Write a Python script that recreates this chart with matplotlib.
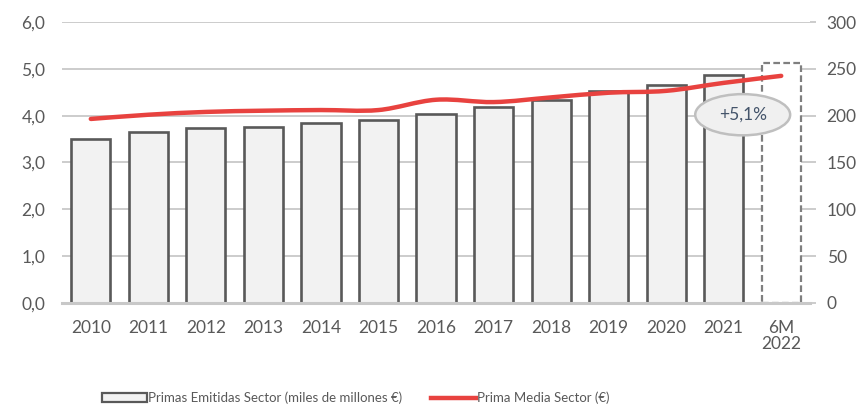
import matplotlib

matplotlib.use("Agg")
import matplotlib.pyplot as plt
import numpy as np
from matplotlib.lines import Line2D
from matplotlib.patches import Ellipse, Patch, PathPatch
from matplotlib.path import Path

# data
categories = ["2010", "2011", "2012", "2013", "2014", "2015", "2016",
              "2017", "2018", "2019", "2020", "2021", "6M\n2022"]
primas_emitidas = [3.50, 3.65, 3.74, 3.76, 3.85, 3.91, 4.04,
                   4.19, 4.33, 4.52, 4.66, 4.87, 5.13]
prima_media = [196.5, 201.0, 204.0, 205.3, 206.0, 206.0, 217.0,
               214.5, 219.5, 224.5, 226.5, 235.0, 242.5]
left_ticks = [0, 1, 2, 3, 4, 5, 6]
right_ticks = [0, 50, 100, 150, 200, 250, 300]
growth_label = "+5,1%"

TXT = "#595959"
GRID = "#C8C8C8"
RED = "#E8423F"
FONT = "Lato"


def smooth_path(xs, ys):
    # Catmull-Rom style cubic bezier through the points (like Excel's smoothed line)
    pts = np.column_stack([xs, ys]).astype(float)
    verts = [pts[0]]
    codes = [Path.MOVETO]
    n = len(pts)
    for i in range(n - 1):
        p0 = pts[i - 1] if i > 0 else pts[i]
        p1 = pts[i]
        p2 = pts[i + 1]
        p3 = pts[i + 2] if i + 2 < n else pts[i + 1]
        c1 = p1 + (p2 - p0) / 6.0
        c2 = p2 - (p3 - p1) / 6.0
        verts += [c1, c2, p2]
        codes += [Path.CURVE4] * 3
    return Path(verts, codes)


def main():
    fig = plt.figure(figsize=(8.64, 4.09), dpi=100)
    ax = fig.add_axes([0.0718, 0.2592, 0.8657, 0.687])
    x = np.arange(len(categories))

    n_full = len(categories) - 1
    ax.bar(x[:n_full], primas_emitidas[:n_full], width=0.68,
           color="#F2F2F2", edgecolor=TXT, linewidth=1.9, zorder=2)
    ax.bar(x[n_full:], primas_emitidas[n_full:], width=0.68,
           color="white", edgecolor="#7F7F7F", linewidth=1.6,
           linestyle=(0, (3, 1.5)), zorder=2)

    ax.set_xlim(-0.5, len(categories) - 0.5)
    ax.set_ylim(0, 6)
    ax.set_yticks(left_ticks)
    ax.set_yticklabels([f"{v:.1f}".replace(".", ",") for v in left_ticks])
    ax.set_xticks(x)
    ax.set_xticklabels(categories, linespacing=1.0)
    ax.yaxis.grid(True, color=GRID, linewidth=1.3, zorder=0)
    ax.set_axisbelow(True)
    for side in ["top", "left", "right"]:
        ax.spines[side].set_visible(False)
    ax.spines["bottom"].set_color(GRID)
    ax.spines["bottom"].set_linewidth(2.2)
    ax.tick_params(axis="y", length=0, pad=12, labelsize=12.5, labelcolor=TXT)
    ax.tick_params(axis="x", length=0, pad=12, labelsize=12.5, labelcolor=TXT)

    ax2 = ax.twinx()
    ax2.set_ylim(0, 300)
    ax2.set_yticks(right_ticks)
    for side in ["top", "left", "right", "bottom"]:
        ax2.spines[side].set_visible(False)
    ax2.tick_params(axis="y", length=4, width=1.3, color=GRID, pad=8,
                    labelsize=12.5, labelcolor=TXT)
    ax2.add_patch(PathPatch(smooth_path(x, prima_media), facecolor="none",
                            edgecolor=RED, linewidth=3.2, capstyle="round",
                            zorder=4))

    # growth bubble
    ax.add_patch(Ellipse((11.33, 4.02), 1.65, 0.88, facecolor="#F0F0F0",
                         edgecolor="#BFBFBF", linewidth=1.8, zorder=5))
    ax.text(11.33, 4.02, growth_label, ha="center", va="center",
            fontsize=12.5, color="#44546A", family=FONT, zorder=6)

    for lab in ax.get_xticklabels() + ax.get_yticklabels() + ax2.get_yticklabels():
        lab.set_family(FONT)

    handles = [
        Patch(facecolor="#F2F2F2", edgecolor=TXT, linewidth=1.6,
              label="Primas Emitidas Sector (miles de millones €)"),
        Line2D([], [], color=RED, linewidth=3.2,
               label="Prima Media Sector (€)"),
    ]
    fig.legend(handles=handles, loc="center", bbox_to_anchor=(0.412, 0.027),
               ncol=2, frameon=False, handlelength=3.4, handleheight=0.6,
               handletextpad=0.1, columnspacing=2.2,
               prop={"family": FONT, "size": 9.5}, labelcolor=TXT)

    fig.savefig("out.png", dpi=100)
    plt.close(fig)


if __name__ == "__main__":
    main()
